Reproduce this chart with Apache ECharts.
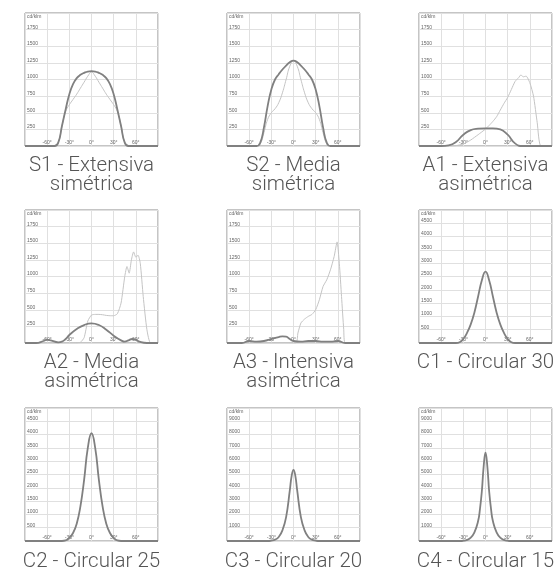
<!DOCTYPE html>
<html>
<head>
<meta charset="utf-8">
<script src="https://cdn.jsdelivr.net/npm/echarts@6/dist/echarts.min.js"></script>
<style>
html,body{margin:0;padding:0;background:#fff;}
#chart{width:559px;height:570px;}
</style>
</head>
<body>
<div id="chart"></div>
<script>
// ---- Data (angles in degrees, intensity in cd/klm) ----
const unitLabel = 'cd/klm';

const s1Angles = [-90,-50,-45,-40,-35,-30,-25,-20,-15,-10,-5,0,5,10,15,20,25,30,35,40,45,50,90];
const s1Dark   = [0,0,50,300,550,780,930,1020,1070,1100,1120,1125,1120,1100,1070,1020,930,780,550,300,50,0,0];
const s1Light  = [0,0,50,300,520,620,700,780,870,960,1050,1110,1050,960,870,780,700,620,520,300,50,0,0];

const s2Angles = [-90,-50,-45,-40,-35,-30,-25,-20,-15,-10,-5,0,5,10,15,20,25,30,35,40,45,50,90];
const s2Dark   = [0,0,50,280,600,850,1000,1080,1150,1210,1260,1285,1260,1210,1150,1080,1000,850,600,280,50,0,0];
const s2Light  = [0,0,30,200,400,500,560,650,800,1000,1200,1280,1200,1000,800,650,560,500,400,200,30,0,0];

const a1DarkAngles = [-90,-60,-50,-40,-30,-20,-10,0,10,20,30,40,50,90];
const a1Dark       = [0,0,10,60,170,240,260,265,265,250,170,40,0,0];
const a1LightAngles = [-90,-45,-40,-30,-20,-10,0,5,10,15,20,25,30,35,40,45,48,51,55,60,65,70,75,90];
const a1Light       = [0,0,5,30,90,170,255,310,370,440,540,640,730,850,970,1030,1070,1040,1050,950,750,350,0,0];

const a2DarkAngles = [-90,-75,-65,-60,-55,-45,-40,-35,-30,-20,-10,0,10,20,30,40,45,50,55,60,65,75,90];
const a2Dark       = [0,0,30,50,40,10,20,60,120,210,270,295,270,200,110,40,20,40,60,50,20,0,0];
const a2LightAngles = [-90,-20,-15,-10,-5,0,5,10,15,20,25,30,35,40,45,48,51,54,57,60,63,66,70,75,80,90];
const a2Light       = [0,0,10,80,330,420,430,430,425,415,410,410,440,600,1000,1150,1050,1250,1370,1290,1320,1200,700,200,0,0];

const a3DarkAngles = [-90,-70,-60,-50,-40,-30,-20,-15,-10,-5,0,10,20,30,40,50,60,70,90];
const a3Dark       = [0,0,30,20,30,60,90,100,95,60,30,20,30,30,20,20,30,0,0];
const a3LightAngles = [-90,3,6,10,15,20,25,30,35,40,45,50,55,59,62,65,68,70,90];
const a3Light       = [0,0,150,300,360,400,430,500,650,850,950,1100,1300,1520,1200,700,200,0,0];

const c1Angles = [-90,-40,-35,-30,-25,-20,-15,-10,-5,0,5,10,15,20,25,30,35,40,90];
const c1Vals   = [0,0,30,150,380,700,1150,1750,2350,2680,2350,1750,1150,700,380,150,30,0,0];

const c2Angles = [-90,-40,-35,-30,-25,-20,-15,-10,-5,0,5,10,15,20,25,30,35,40,90];
const c2Vals   = [0,0,20,120,300,650,1300,2300,3500,4050,3500,2300,1300,650,300,120,20,0,0];

const c3Angles = [-90,-35,-30,-25,-20,-15,-10,-5,-2.5,0,2.5,5,10,15,20,25,30,35,90];
const c3Vals   = [0,0,30,100,300,800,1800,3800,4900,5350,4900,3800,1800,800,300,100,30,0,0];

const c4Angles = [-90,-35,-30,-25,-20,-15,-10,-7.5,-5,-2.5,0,2.5,5,7.5,10,15,20,25,30,35,90];
const c4Vals   = [0,0,20,80,250,650,1500,2400,3700,5600,6650,5600,3700,2400,1500,650,250,80,20,0,0];

const captions = [
  "S1 - Extensiva\nsimétrica", "S2 - Media\nsimétrica", "A1 - Extensiva\nasimétrica",
  "A2 - Media\nasimétrica", "A3 - Intensiva\nasimétrica", "C1 - Circular 30",
  "C2 - Circular 25", "C3 - Circular 20", "C4 - Circular 15"
];
const yMax = [2000,2000,2000,2000,2000,5000,5000,10000,10000];
const yStep = [250,250,250,250,250,500,500,1000,1000];

// ---- Layout ----
const colLeft = [25, 227, 419];
const rowTop = [13, 210, 408];
const size = 133;

const pairs = (a, v) => a.map((x, i) => [x, v[i]]);
const panels = [
  [{d: pairs(s1Angles, s1Light), k: 'light', smooth: true}, {d: pairs(s1Angles, s1Dark), k: 'dark', smooth: true}],
  [{d: pairs(s2Angles, s2Light), k: 'light', smooth: true}, {d: pairs(s2Angles, s2Dark), k: 'dark', smooth: true}],
  [{d: pairs(a1LightAngles, a1Light), k: 'light', smooth: 0.2}, {d: pairs(a1DarkAngles, a1Dark), k: 'dark', smooth: true}],
  [{d: pairs(a2LightAngles, a2Light), k: 'light', smooth: 0.2}, {d: pairs(a2DarkAngles, a2Dark), k: 'dark', smooth: true}],
  [{d: pairs(a3LightAngles, a3Light), k: 'light', smooth: 0.2}, {d: pairs(a3DarkAngles, a3Dark), k: 'dark', smooth: true}],
  [{d: pairs(c1Angles, c1Vals), k: 'dark', smooth: true}],
  [{d: pairs(c2Angles, c2Vals), k: 'dark', smooth: true}],
  [{d: pairs(c3Angles, c3Vals), k: 'dark', smooth: true}],
  [{d: pairs(c4Angles, c4Vals), k: 'dark', smooth: true}]
];

const grid = [], xAxis = [], yAxis = [], series = [], graphic = [];
const tickFont = {fontSize: 5, color: '#666', fontFamily: 'Liberation Sans'};
panels.forEach((p, i) => {
  const r = Math.floor(i / 3), c = i % 3;
  const left = colLeft[c], top = rowTop[r];
  grid.push({left: left, top: top, width: size, height: size, show: true,
    borderColor: '#8a8a8a', borderWidth: 1, backgroundColor: '#fff', containLabel: false});
  xAxis.push({type: 'value', gridIndex: i, min: -90, max: 90, interval: 30,
    axisLine: {show: false}, axisTick: {show: false},
    splitLine: {show: true, lineStyle: {color: '#e0e0e0', width: 1}},
    axisLabel: Object.assign({inside: true, margin: 1, verticalAlign: 'bottom',
      showMinLabel: false, showMaxLabel: false, formatter: v => v + '°'}, tickFont)});
  yAxis.push({type: 'value', gridIndex: i, min: 0, max: yMax[i], interval: yStep[i],
    axisLine: {show: false}, axisTick: {show: false},
    splitLine: {show: true, lineStyle: {color: '#e0e0e0', width: 1}},
    axisLabel: Object.assign({inside: true, margin: 2, verticalAlign: 'bottom',
      showMinLabel: false, showMaxLabel: false, formatter: v => String(v)}, tickFont)});
  p.forEach(s => {
    series.push({type: 'line', xAxisIndex: i, yAxisIndex: i, data: s.d, smooth: s.smooth,
      symbol: 'none', silent: true,
      lineStyle: s.k === 'dark' ? {color: '#808080', width: 1.8} : {color: '#c4c4c4', width: 1},
      z: s.k === 'dark' ? 3 : 2});
  });
  graphic.push({type: 'text', x: left + 2, y: top + 1, z: 10,
    style: {text: unitLabel, fill: '#666', font: '5px "Liberation Sans"', textAlign: 'left', textVerticalAlign: 'top'}});
  const capTop = top + size + (r === 2 ? 12 : 11);
  graphic.push({type: 'text', x: left + size / 2, y: capTop, z: 10,
    style: {text: captions[i], textAlign: 'center', fill: '#555',
      font: '300 20.5px "Roboto", "Liberation Sans", sans-serif', lineHeight: 18.5}});
});

const chart = echarts.init(document.getElementById('chart'), null, {renderer: 'canvas'});
chart.setOption({animation: false, grid, xAxis, yAxis, series, graphic});
</script>
</body>
</html>
